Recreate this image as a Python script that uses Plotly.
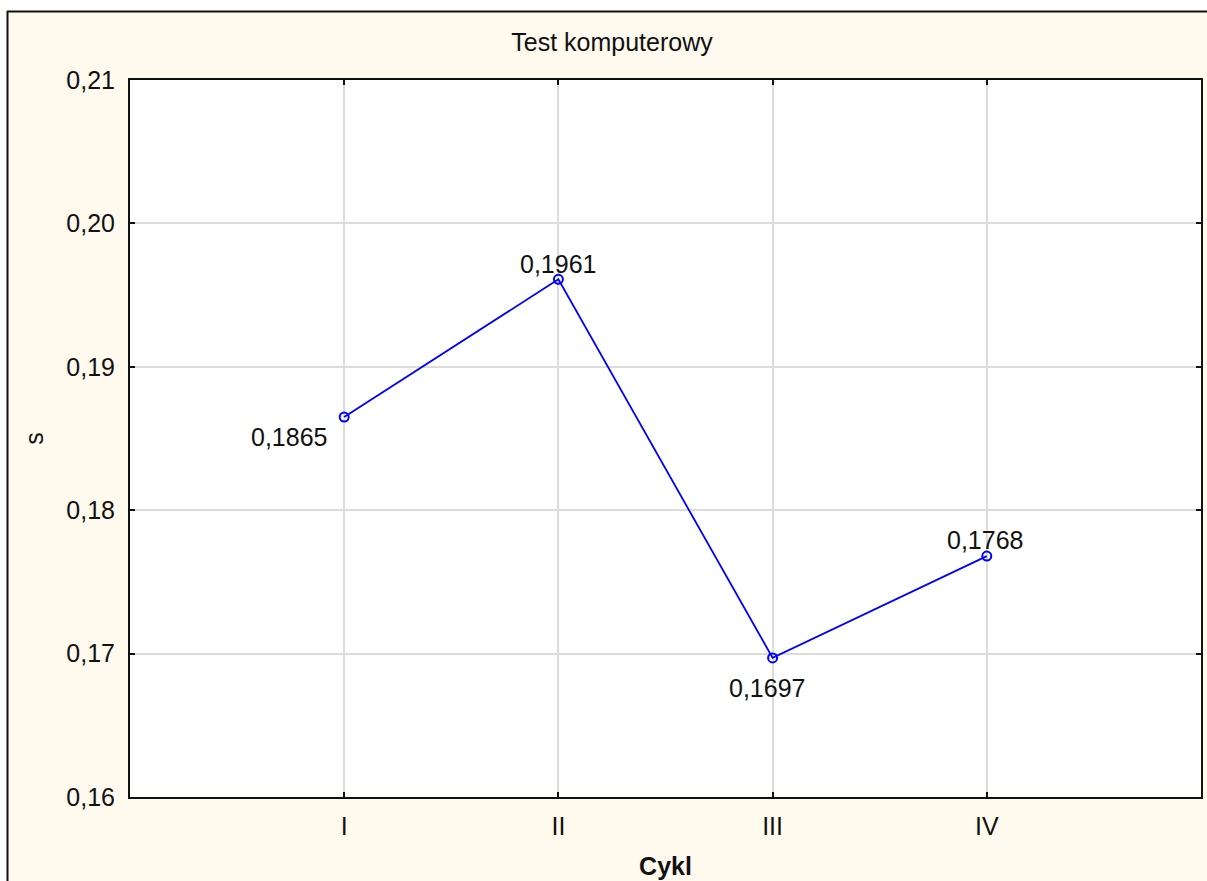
import plotly.graph_objects as go

# Data
cycles = ["I", "II", "III", "IV"]
s_values = [0.1865, 0.1961, 0.1697, 0.1768]
y_ticks = [0.16, 0.17, 0.18, 0.19, 0.20, 0.21]

# Label offsets (pixels) from each point
label_shift_x = [-55, 0, -6, -2]
label_shift_y = [-20, 15, -30, 16]

W, H = 1207, 881
L, R, T, B = 130, 6, 80, 84
PW, PH = W - L - R, H - T - B

def px_x(p):
    return (p - L) / PW

def px_y(p):
    return 1 - (p - T) / PH

FONT = "Liberation Sans, Arial, sans-serif"
CREAM = "#fff9ee"
x_pos = [1, 2, 3, 4]

fig = go.Figure()
fig.add_trace(go.Scatter(
    x=x_pos,
    y=s_values,
    mode="lines+markers",
    line=dict(color="#0000ff", width=1.8),
    marker=dict(symbol="circle-open", size=9, color="#0000ff", line=dict(width=2, color="#0000ff")),
    cliponaxis=False,
    showlegend=False,
))

for xv, yv, dx, dy in zip(x_pos, s_values, label_shift_x, label_shift_y):
    fig.add_annotation(
        x=xv, y=yv, xref="x", yref="y",
        text=f"{yv:.4f}".replace(".", ","),
        showarrow=False, xanchor="center", yanchor="middle",
        xshift=dx, yshift=dy,
        font=dict(family=FONT, size=25, color="#111111"),
    )

fig.update_layout(
    width=W, height=H,
    margin=dict(l=L, r=R, t=T, b=B, autoexpand=False),
    paper_bgcolor=CREAM,
    plot_bgcolor="white",
    separators=",.",
    font=dict(family=FONT, size=25, color="#111111"),
    title=dict(text="Test komputerowy", x=px_x(612), xref="paper", xanchor="center",
               y=1 - 42 / H, yanchor="middle", font=dict(size=25)),
    xaxis=dict(
        range=[0, 5], tickvals=x_pos, ticktext=cycles,
        tickfont=dict(size=25),
        showgrid=True, gridcolor="#dcdcdc", gridwidth=2,
        showline=True, linecolor="#111111", linewidth=2, mirror="ticks",
        ticks="inside", ticklen=5, tickwidth=2, tickcolor="#111111",
        ticklabelstandoff=6,
        zeroline=False,
        title=dict(text="<b>Cykl</b>", font=dict(size=25), standoff=18),
    ),
    yaxis=dict(
        range=[0.16, 0.21], tickvals=y_ticks, tickformat=".2f",
        tickfont=dict(size=25),
        showgrid=True, gridcolor="#dcdcdc", gridwidth=2,
        showline=True, linecolor="#111111", linewidth=2, mirror="ticks",
        ticks="inside", ticklen=5, tickwidth=2, tickcolor="#111111",
        ticklabelstandoff=8,
        zeroline=False,
        title=dict(text="s", font=dict(size=25), standoff=16),
    ),
)

# Outer frame: white margin strip with a dark border around the cream panel
fig.add_shape(type="rect", xref="paper", yref="paper",
              x0=px_x(-5), x1=px_x(W + 5), y0=px_y(11), y1=px_y(-5),
              fillcolor="white", line=dict(width=0), layer="below")
fig.add_shape(type="rect", xref="paper", yref="paper",
              x0=px_x(-5), x1=px_x(7), y0=px_y(H + 5), y1=px_y(-5),
              fillcolor="white", line=dict(width=0), layer="below")
fig.add_shape(type="line", xref="paper", yref="paper",
              x0=px_x(7), x1=px_x(W + 5), y0=px_y(11.5), y1=px_y(11.5),
              line=dict(color="#111111", width=2), layer="below")
fig.add_shape(type="line", xref="paper", yref="paper",
              x0=px_x(7.5), x1=px_x(7.5), y0=px_y(11), y1=px_y(H + 5),
              line=dict(color="#111111", width=2), layer="below")

fig.write_html("out.html")
